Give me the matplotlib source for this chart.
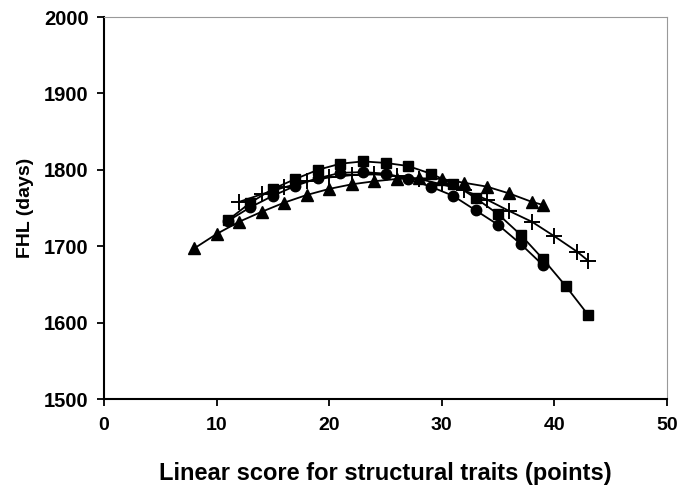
import matplotlib
matplotlib.use("Agg")
import matplotlib.pyplot as plt

plt.rcParams['font.family'] = ['Liberation Sans', 'DejaVu Sans']

# Data
x_sq = [11, 13, 15, 17, 19, 21, 23, 25, 27, 29, 31, 33, 35, 37, 39, 41, 43]
y_sq = [1734, 1757, 1775, 1788, 1800, 1808, 1811, 1809, 1805, 1795, 1782, 1763, 1742, 1715, 1683, 1648, 1610]

x_ci = [11, 13, 15, 17, 19, 21, 23, 25, 27, 29, 31, 33, 35, 37, 39]
y_ci = [1733, 1751, 1766, 1779, 1789, 1796, 1797, 1795, 1788, 1778, 1766, 1747, 1728, 1703, 1675]

x_tr = [8, 10, 12, 14, 16, 18, 20, 22, 24, 26, 28, 30, 32, 34, 36, 38, 39]
y_tr = [1697, 1716, 1732, 1745, 1757, 1767, 1775, 1781, 1785, 1788, 1789, 1788, 1783, 1778, 1769, 1758, 1754]

x_pl = [12, 14, 16, 18, 20, 22, 24, 26, 28, 30, 32, 34, 36, 38, 40, 42, 43]
y_pl = [1758, 1768, 1777, 1785, 1790, 1793, 1794, 1792, 1788, 1781, 1773, 1761, 1746, 1732, 1713, 1693, 1681]

xticks = [0, 10, 20, 30, 40, 50]
yticks = [1500, 1600, 1700, 1800, 1900, 2000]

fig = plt.figure(figsize=(6.77, 4.86), dpi=100)
ax = fig.add_axes([104/677, 1-399/486, (667-104)/677, (399-17)/486])

lw = 1.3
ax.plot(x_sq, y_sq, color='black', lw=lw, marker='s', markersize=7.5, zorder=3)
ax.plot(x_ci, y_ci, color='black', lw=lw, marker='o', markersize=7.5, zorder=3)
ax.plot(x_tr, y_tr, color='black', lw=lw, marker='^', markersize=8.5, zorder=3)
ax.plot(x_pl, y_pl, color='black', lw=lw, marker='+', markersize=12, markeredgewidth=1.4, zorder=3)

ax.set_xlim(0, 50)
ax.set_ylim(1500, 2000)
ax.set_xticks(xticks)
ax.set_yticks(yticks)
ax.tick_params(direction='out', length=5, width=1.3, labelsize=14.5)
ax.tick_params(axis='x', pad=8, labelsize=14)
ax.tick_params(axis='y', pad=6)
for lab in ax.get_xticklabels() + ax.get_yticklabels():
    lab.set_fontweight('bold')

ax.spines['left'].set_linewidth(1.5)
ax.spines['bottom'].set_linewidth(1.5)
ax.spines['top'].set_linewidth(0.8)
ax.spines['right'].set_linewidth(0.8)
ax.spines['top'].set_color('#999999')
ax.spines['right'].set_color('#999999')

ax.set_xlabel('Linear score for structural traits (points)', fontsize=17, fontweight='bold', labelpad=20)
ax.set_ylabel('FHL (days)', fontsize=14, fontweight='bold', labelpad=7)

fig.savefig('out.png', dpi=100)
